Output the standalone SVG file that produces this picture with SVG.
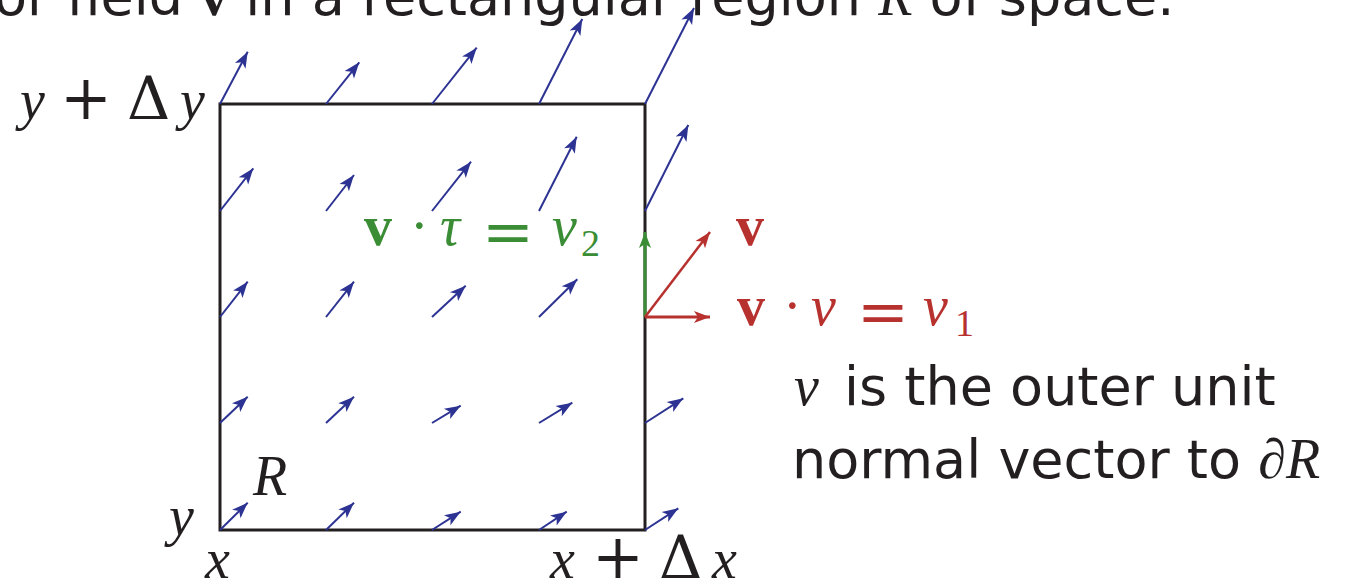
<svg xmlns="http://www.w3.org/2000/svg" width="1351" height="586" viewBox="0 0 1351 586">
<style>
.sans{font-family:"DejaVu Sans",sans-serif;font-size:54px;fill:#231f20}
.m{font-family:"Liberation Serif",serif;font-size:56px;fill:#231f20}
.it{font-style:italic}
.bf{font-weight:bold}
.op{font-family:"DejaVu Serif",serif}
.sub{font-size:38px}
.blue{stroke:#2d3393;stroke-width:2;fill:none}
.box{stroke:#231f20;stroke-width:3;fill:none}
.red{fill:#b7312f}
.grn{fill:#3a8d35}
</style>
<defs>
<marker id="hb" viewBox="-17 -8 18 16" markerWidth="18" markerHeight="16" refX="0" refY="0" orient="auto" markerUnits="userSpaceOnUse"><path d="M0,0 L-16,-6 L-12,0 L-16,6 Z" fill="#2d3393"/></marker>
<marker id="hr" viewBox="-17 -8 18 16" markerWidth="18" markerHeight="16" refX="0" refY="0" orient="auto" markerUnits="userSpaceOnUse"><path d="M0,0 L-16,-6 L-12,0 L-16,6 Z" fill="#b7312f"/></marker>
<marker id="hg" viewBox="-17 -8 18 16" markerWidth="18" markerHeight="16" refX="0" refY="0" orient="auto" markerUnits="userSpaceOnUse"><path d="M0,0 L-16,-6 L-12,0 L-16,6 Z" fill="#3a8d35"/></marker>
</defs>
<rect width="1351" height="586" fill="#fff"/>

<g id="caption">
<text class="sans" x="-6" y="15">or field <tspan class="m bf" style="font-family:'Liberation Serif',serif">v</tspan> in a rectangular region <tspan class="m it" style="font-family:'Liberation Serif',serif">R</tspan> of space.</text>
</g>

<g id="region">
<rect class="box" x="220" y="104" width="425" height="426"/>
</g>

<g id="connectors">
<g class="field">
<line class="blue" x1="220" y1="104" x2="247.7" y2="51.7" marker-end="url(#hb)"/>
<line class="blue" x1="326" y1="104" x2="359.3" y2="62.3" marker-end="url(#hb)"/>
<line class="blue" x1="432" y1="104" x2="476.7" y2="47.7" marker-end="url(#hb)"/>
<line class="blue" x1="539" y1="104" x2="582.3" y2="19" marker-end="url(#hb)"/>
<line class="blue" x1="645" y1="104" x2="694" y2="8" marker-end="url(#hb)"/>

<line class="blue" x1="220" y1="211" x2="253.3" y2="168.3" marker-end="url(#hb)"/>
<line class="blue" x1="326" y1="211" x2="354" y2="175" marker-end="url(#hb)"/>
<line class="blue" x1="432" y1="211" x2="471" y2="161.7" marker-end="url(#hb)"/>
<line class="blue" x1="539" y1="211" x2="576.7" y2="136.7" marker-end="url(#hb)"/>
<line class="blue" x1="645" y1="211" x2="688.3" y2="125" marker-end="url(#hb)"/>

<line class="blue" x1="220" y1="317" x2="247.7" y2="281.7" marker-end="url(#hb)"/>
<line class="blue" x1="326" y1="317" x2="354" y2="281.7" marker-end="url(#hb)"/>
<line class="blue" x1="432" y1="317" x2="465.7" y2="285.7" marker-end="url(#hb)"/>
<line class="blue" x1="539" y1="317" x2="577.3" y2="279.3" marker-end="url(#hb)"/>

<line class="blue" x1="220" y1="423" x2="247.7" y2="396.7" marker-end="url(#hb)"/>
<line class="blue" x1="326" y1="423" x2="354" y2="396.7" marker-end="url(#hb)"/>
<line class="blue" x1="432" y1="423" x2="460.7" y2="405.7" marker-end="url(#hb)"/>
<line class="blue" x1="539" y1="423" x2="572.3" y2="402.7" marker-end="url(#hb)"/>
<line class="blue" x1="645" y1="423" x2="683.3" y2="398.3" marker-end="url(#hb)"/>

<line class="blue" x1="220" y1="530" x2="247.7" y2="502.7" marker-end="url(#hb)"/>
<line class="blue" x1="326" y1="530" x2="354" y2="502.7" marker-end="url(#hb)"/>
<line class="blue" x1="432" y1="530" x2="460.7" y2="511.7" marker-end="url(#hb)"/>
<line class="blue" x1="539" y1="530" x2="566.7" y2="511.7" marker-end="url(#hb)"/>
<line class="blue" x1="645" y1="530" x2="678.3" y2="508.3" marker-end="url(#hb)"/>
</g>
<line id="tau-arrow" x1="645" y1="317" x2="645" y2="232" stroke="#3a8d35" stroke-width="3" marker-end="url(#hg)"/>
<line id="v-arrow" x1="645" y1="317" x2="710" y2="232" stroke="#b7312f" stroke-width="2.5" marker-end="url(#hr)"/>
<line id="nu-arrow" x1="645" y1="317" x2="710" y2="317" stroke="#b7312f" stroke-width="3" marker-end="url(#hr)"/>
</g>

<g id="axis-labels">
<text class="m" y="119"><tspan class="it" x="20">y</tspan><tspan class="op" x="60" font-size="62">+</tspan><tspan class="op" x="127" font-size="60">Δ</tspan><tspan class="it" x="180">y</tspan></text>
<text class="m it" x="169" y="535">y</text>
<text class="m it" x="205" y="578">x</text>
<text class="m" y="578"><tspan class="it" x="550">x</tspan><tspan class="op" x="592" font-size="62">+</tspan><tspan class="op" x="659" font-size="60">Δ</tspan><tspan class="it" x="712">x</tspan></text>
<text class="m it" x="253" y="495" font-size="60">R</text>
</g>

<g id="label-tau">
<text class="m grn" y="245"><tspan class="bf grn" x="364">v</tspan><tspan class="grn" x="410">·</tspan><tspan class="it grn" x="440">τ</tspan><tspan class="op grn" x="482" y="253" font-size="62">=</tspan><tspan class="it grn" x="552" y="245">v</tspan><tspan class="sub grn" x="581" y="256">2</tspan></text>
</g>

<g id="label-v">
<text class="m bf red" x="736" y="245">v</text>
</g>

<g id="label-nu">
<text class="m red" y="325"><tspan class="bf red" x="737">v</tspan><tspan class="red" x="783">·</tspan><tspan class="it red" x="811">ν</tspan><tspan class="op red" x="857" y="333" font-size="62">=</tspan><tspan class="it red" x="923" y="325">v</tspan><tspan class="sub red" x="955" y="336">1</tspan></text>
</g>

<g id="note">
<text class="sans" y="405"><tspan class="m it" x="794">ν</tspan><tspan x="844">is the outer unit</tspan></text>
<text class="sans" x="792" y="478">normal vector to <tspan class="m it">∂R</tspan></text>
</g>
</svg>
